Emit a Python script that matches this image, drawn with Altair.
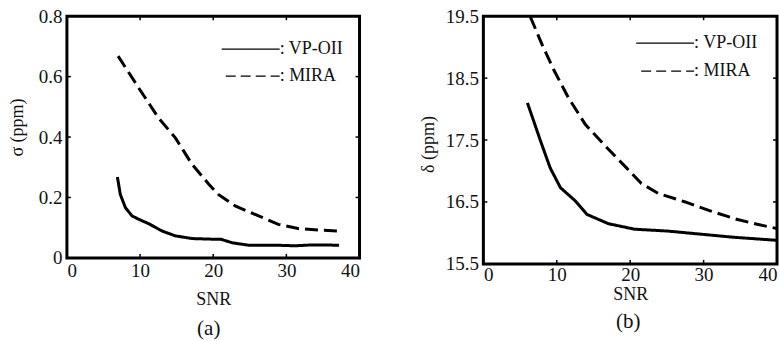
import altair as alt
import pandas as pd

# ---- panel (a): sigma (ppm) versus SNR ----
snr_a_vp = [6.9, 7.3, 8.0, 8.9, 9.8, 11.2, 13.0, 14.8, 17.1, 19.8, 21.0, 22.6, 24.8, 28.5, 31.2, 33.5, 37.2]
sigma_vp = [0.268, 0.21, 0.166, 0.139, 0.128, 0.113, 0.089, 0.073, 0.064, 0.062, 0.062, 0.05, 0.042, 0.042, 0.04, 0.043, 0.042]
snr_a_mira = [7.0, 9.8, 12.5, 14.8, 17.1, 19.4, 20.7, 23.0, 26.2, 28.9, 31.6, 34.4, 37.2]
sigma_mira = [0.668, 0.563, 0.464, 0.398, 0.31, 0.244, 0.21, 0.172, 0.139, 0.111, 0.097, 0.092, 0.089]

# ---- panel (b): delta (ppm) versus SNR ----
snr_b_vp = [6.0, 7.8, 9.1, 10.5, 12.5, 14.1, 17.0, 20.6, 25.1, 29.6, 34.1, 40.0]
delta_vp = [18.1, 17.48, 17.05, 16.73, 16.52, 16.3, 16.15, 16.06, 16.03, 15.98, 15.93, 15.88]
snr_b_mira = [6.4, 8.0, 9.6, 11.6, 13.9, 16.8, 19.5, 21.5, 23.8, 27.5, 30.8, 34.5, 37.3, 40.0]
delta_mira = [19.49, 19.04, 18.63, 18.18, 17.75, 17.38, 17.05, 16.8, 16.64, 16.5, 16.36, 16.22, 16.14, 16.07]

methods = ["VP-OII", "MIRA"]
legend_labels = [": VP-OII", ": MIRA"]
snr_ticks = [0, 10, 20, 30, 40]
sigma_ticks = [0, 0.2, 0.4, 0.6, 0.8]
delta_ticks = [15.5, 16.5, 17.5, 18.5, 19.5]

FONT = "Liberation Serif, Times New Roman, serif"
LABEL_FS = 19
TITLE_FS = 18
LEGEND_FS = 18
CAPTION_FS = 21
DASH = [13, 6]
INK = "#111"


def series(xs, ys, name):
    return pd.DataFrame({"snr": xs, "val": ys, "method": name})


def axis(values, fmt, title, tp, lp, **extra):
    return alt.Axis(
        values=values, format=fmt, title=title, titlePadding=tp, labelPadding=lp,
        domain=False, ticks=False, grid=False,
        labelFont=FONT, labelFontSize=LABEL_FS, labelColor=INK,
        titleFont=FONT, titleFontSize=TITLE_FS, titleColor=INK, titleFontWeight="normal",
        **extra,
    )


def panel(df, ydomain, yticks, yfmt, ytitle, caption, w, h, leg, ax):
    xscale = alt.Scale(domain=[0, 40], nice=False, zero=False)
    yscale = alt.Scale(domain=ydomain, nice=False, zero=False)
    curves = alt.Chart(df).mark_line(color="black", strokeWidth=3, clip=True).encode(
        x=alt.X("snr:Q", scale=xscale,
                axis=axis(snr_ticks, "d", "SNR", ax["xtp"], ax["xlp"])),
        y=alt.Y("val:Q", scale=yscale,
                axis=axis(yticks, yfmt, ytitle, ax["ytp"], ax["ylp"], titleY=ax["ty"])),
        strokeDash=alt.StrokeDash("method:N", scale=alt.Scale(domain=methods, range=[[1, 0], DASH]), legend=None),
        detail="method:N",
    )
    # inward tick marks on all four sides of the frame
    xt = pd.DataFrame({"t": snr_ticks[1:-1]})
    yt = pd.DataFrame({"t": yticks[1:-1]})
    tick_style = dict(color="black", strokeWidth=1.5)
    xb = alt.Chart(xt).mark_rule(**tick_style).encode(x=alt.X("t:Q", scale=xscale), y=alt.value(h), y2=alt.value(h - 4))
    xtp = alt.Chart(xt).mark_rule(**tick_style).encode(x=alt.X("t:Q", scale=xscale), y=alt.value(0), y2=alt.value(4))
    yl = alt.Chart(yt).mark_rule(**tick_style).encode(y=alt.Y("t:Q", scale=yscale), x=alt.value(0), x2=alt.value(4))
    yr = alt.Chart(yt).mark_rule(**tick_style).encode(y=alt.Y("t:Q", scale=yscale), x=alt.value(w - 4), x2=alt.value(w))

    # sub-figure caption under the x-axis title
    cap = alt.Chart(pd.DataFrame({"c": [caption]})).mark_text(
        align="center", baseline="middle", font=FONT, fontSize=CAPTION_FS, color=INK
    ).encode(x=alt.value(ax["cx"]), y=alt.value(ax["cy"]), text="c:N")

    # legend: line sample followed by ": name"
    layers = [curves, xb, xtp, yl, yr, cap]
    for i, lab in enumerate(legend_labels):
        x0, x1, yy = leg[i]
        rule = alt.Chart(pd.DataFrame({"k": [lab]})).mark_rule(
            color="black", strokeWidth=1.2, strokeDash=[1, 0] if i == 0 else [10, 5]
        ).encode(x=alt.value(x0), x2=alt.value(x1), y=alt.value(yy))
        txt = alt.Chart(pd.DataFrame({"k": [lab]})).mark_text(
            align="left", baseline="middle", font=FONT, fontSize=LEGEND_FS, color=INK
        ).encode(x=alt.value(x1), y=alt.value(yy), text="k:N")
        layers += [rule, txt]
    return alt.layer(*layers).properties(width=w, height=h)


df_a = pd.concat([series(snr_a_vp, sigma_vp, "VP-OII"), series(snr_a_mira, sigma_mira, "MIRA")])
df_b = pd.concat([series(snr_b_vp, delta_vp, "VP-OII"), series(snr_b_mira, delta_mira, "MIRA")])

pa = panel(df_a, [0, 0.8], sigma_ticks, "~g", "σ (ppm)", "(a)", 293, 242,
           [(155, 213, 33), (159, 213, 60)],
           {"xtp": 10, "xlp": 4, "ytp": 12, "ylp": 5, "ty": 111, "cx": 142, "cy": 313})
pb = panel(df_b, [15.5, 19.5], delta_ticks, ".1f", "δ (ppm)", "(b)", 294, 248,
           [(153, 211, 27), (158, 211, 55)],
           {"xtp": 1, "xlp": 2, "ytp": 8, "ylp": 5, "ty": 128, "cx": 145, "cy": 306})

chart = alt.hconcat(pa, pb, spacing=55).resolve_scale(
    x="independent", y="independent", strokeDash="independent"
).properties(
    padding={"left": 6, "top": 5, "right": 0, "bottom": 0}
).configure_view(
    stroke="black", strokeWidth=3
)

chart.save("out.html", embed_options={"renderer": "svg", "actions": False})
